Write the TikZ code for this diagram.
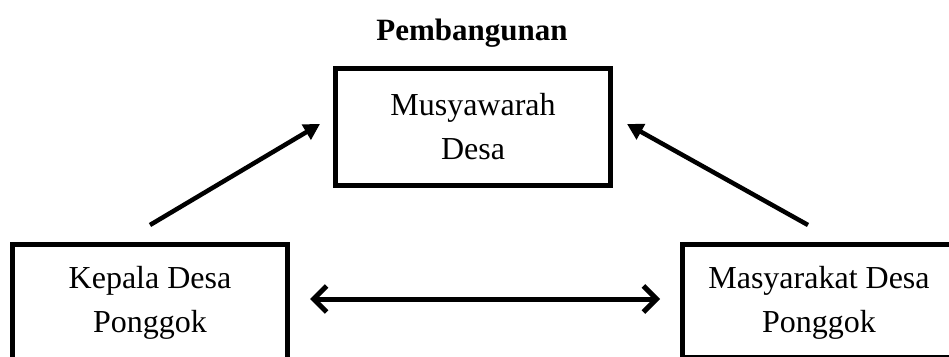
\documentclass[tikz,border=0pt]{standalone}
\usepackage{fontspec}
\setmainfont{Liberation Serif}
\usetikzlibrary{arrows.meta}
\begin{document}
\begin{tikzpicture}[x=1pt,y=-1pt,
  box/.style={draw, line width=5pt, inner sep=0pt, minimum width=275pt},
  lbl/.style={inner sep=0pt, anchor=north, align=center, font=\fontsize{32}{44}\selectfont},
  diag/.style={line width=4.5pt, -{Triangle[length=16pt,width=17pt]}},
  both/.style={line width=5pt, {Straight Barb[length=13pt,width=26pt]}-{Straight Barb[length=13pt,width=26pt]}}]
  \useasboundingbox (0,0) rectangle (949,356);
  \clip (0,0) rectangle (949,356);

  % heading
  \node[inner sep=0pt, anchor=base, font=\fontsize{31}{38}\selectfont\bfseries] (title) at (472,40) {Pembangunan};

  % the three boxes
  \node[box, minimum height=117pt] (md) at (473,127) {};
  \node[box, minimum height=117pt] (kd) at (150,303) {};
  \node[box, minimum height=112.5pt] (mk) at (820,300.75) {};

  % box texts
  \node[lbl] (mdt) at (473,93) {Musyawarah\\Desa};
  \node[lbl] (kdt) at (150,266) {Kepala Desa\\Ponggok};
  \node[lbl] (mkt) at (819,266) {Masyarakat Desa\\Ponggok};

  % connectors
  \draw[diag] ([yshift=17pt]kd.north) -- ([xshift=-13pt,yshift=3pt]md.west);
  \draw[diag] ([xshift=-12pt,yshift=17pt]mk.north) -- ([xshift=14pt,yshift=3pt]md.east);
  \draw[both, shorten <=20pt, shorten >=20pt] ([yshift=4pt]kd.east) -- ([yshift=1.75pt]mk.west);
\end{tikzpicture}
\end{document}
